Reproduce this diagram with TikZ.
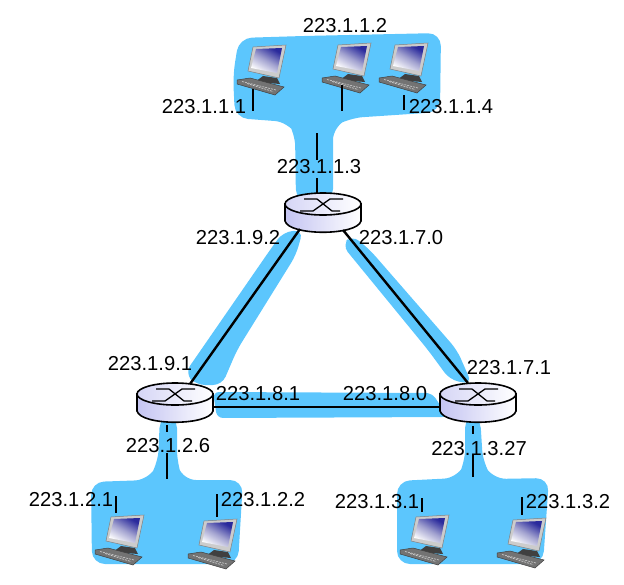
\documentclass[tikz,border=0pt]{standalone}
\usepackage{fontspec}
\setmainfont{Liberation Sans}
\usepackage{tikz}
\usetikzlibrary{calc}
\usetikzlibrary{positioning}
\definecolor{netblue}{HTML}{5CC6FD}
\definecolor{routerlav}{HTML}{C4C4F2}
\definecolor{screenblue}{HTML}{2A2A9C}
\tikzset{
  iplabel/.style={inner sep=0pt,anchor=center,font=\fontsize{20.2}{21}\selectfont},
  netband/.style={fill=netblue,rounded corners=13pt},
  link/.style={line width=2.4pt,black},
  stub/.style={line width=1.7pt,black},
  routerpic/.pic={
    \draw[line width=1.6pt,left color=routerlav,right color=white]
      (-38,0) -- (-38,17) .. controls (-34,32) and (34,32) .. (38,17) -- (38,0) -- cycle;
    \draw[line width=1.6pt,left color=routerlav!70,right color=white] (0,0) ellipse [x radius=38pt,y radius=11pt];
    \draw[line width=1.3pt] (-23,7) -- (-10,7) -- (7,-5) -- (20,-5);
    \draw[line width=1.3pt] (-19,-5) -- (-6,-5) -- (9,7) -- (17,7);
    \coordinate (-e) at (38,13);
    \coordinate (-w) at (-38,13);
    \coordinate (-sw) at (-23,25);
    \coordinate (-se) at (20,26);
    \coordinate (-ne) at (15,-10);
    \coordinate (-nw) at (-10,-11);
  },
  hostpic/.pic={
    \fill[black!75] (-2,16) -- (12,18) -- (15,24) -- (-10,22) -- cycle;
    \fill[black!20,draw=black!50,line width=0.5pt] (-12,-13) -- (21,-15) -- (14,18) -- (-17,11) -- cycle;
    \shade[top color=screenblue,bottom color=white,middle color=black!5!white!60!screenblue,shading angle=-30]
      (-9,-11) -- (17,-12) -- (12,13) -- (-14,8) -- cycle;
    \fill[black!55,draw=black!75,line width=0.5pt] (-28,20) -- (-15,18) -- (19,27) -- (10,35) -- (-28,24) -- cycle;
    \draw[white!80!black,line width=0.7pt,dash pattern=on 2pt off 1pt] (-23,21.5) -- (11,30);
    \draw[white!80!black,line width=0.7pt,dash pattern=on 2pt off 1pt] (-18,23.5) -- (8,31.5);
  },
}
\begin{document}
\begin{tikzpicture}[x=1pt,y=-1pt]
  \useasboundingbox (0,0) rectangle (624,584);
  % blue networks
  \fill[netband] (239,38) -- (303,36) -- (441,33) -- (440,112) -- (350,118) -- (333,127) -- (333,202) -- (296,202) -- (295,133) -- (288,122) -- (235,118) -- (233,75) -- cycle;
  \fill[netband] (160,415) -- (177,415) -- (177,463) -- (183,480) -- (243,480) -- (238,564) -- (92,564) -- (91,482) -- (148,480) -- (158,463) -- cycle;
  \fill[netband] (465,415) -- (480,415) -- (483,463) -- (493,479) -- (549,478) -- (543,564) -- (397,564) -- (397,481) -- (457,478) -- (465,463) -- cycle;
  \fill[netband,rounded corners=9pt] (283,232) -- (303,230) -- (296,255) -- (237,350) -- (222,385) -- (196,385) -- (185,373) -- (270,250) -- cycle;
  \fill[netband,rounded corners=9pt] (342,245) -- (352,235) -- (370,250) -- (457,350) -- (472,384) -- (450,380) -- (428,350) -- cycle;
  \fill[netband,rounded corners=6pt] (213,392) -- (432,393) -- (448,417) -- (217,418) -- cycle;
  % routers and hosts
  \pic (rtop) at (323,204) {routerpic};
  \pic (rleft) at (175,394) {routerpic};
  \pic (rright) at (478,394) {routerpic};
  \pic (ha) at (265,60) {hostpic};
  \pic (hb) at (350,58) {hostpic};
  \pic (hc) at (407,58) {hostpic};
  \pic (hd) at (123,530) {hostpic};
  \pic (he) at (216,534) {hostpic};
  \pic (hf) at (428,530) {hostpic};
  \pic (hg) at (525,533) {hostpic};
  % links
  \draw[link] (rtop-sw) -- (rleft-ne);
  \draw[link] (rtop-se) -- (rright-nw);
  \draw[link] (rleft-e) -- (rright-w);
  % stubs
  \coordinate (sa1) at (253,89); \coordinate (sa2) at (253,111);
  \coordinate (sb1) at (342,85); \coordinate (sb2) at (342,111);
  \coordinate (sc1) at (404,95); \coordinate (sc2) at (404,110);
  \coordinate (st1) at (317,133); \coordinate (st2) at (317,160);
  \coordinate (st3) at (317,178); \coordinate (st4) at (317,193);
  \coordinate (sl1) at (167,425); \coordinate (sl2) at (167,432);
  \coordinate (sl3) at (167,453); \coordinate (sl4) at (167,479);
  \coordinate (sd1) at (116,496); \coordinate (sd2) at (116,513);
  \coordinate (se1) at (217,494); \coordinate (se2) at (217,517);
  \coordinate (sr1) at (473,426); \coordinate (sr2) at (473,434);
  \coordinate (sr3) at (473,455); \coordinate (sr4) at (473,477);
  \coordinate (sf1) at (422,498); \coordinate (sf2) at (422,512);
  \coordinate (sg1) at (522,497); \coordinate (sg2) at (522,515);
  \draw[stub] (sa1) -- (sa2);
  \draw[stub] (sb1) -- (sb2);
  \draw[stub] (sc1) -- (sc2);
  \draw[stub] (st1) -- (st2);
  \draw[stub] (st3) -- (st4);
  \draw[stub] (sl1) -- (sl2);
  \draw[stub] (sl3) -- (sl4);
  \draw[stub] (sd1) -- (sd2);
  \draw[stub] (se1) -- (se2);
  \draw[link] (sr1) -- (sr2);
  \draw[link] (sr3) -- (sr4);
  \draw[stub] (sf1) -- (sf2);
  \draw[stub] (sg1) -- (sg2);
  % addresses
  \node[iplabel] (ipa) at (345,26) {223.1.1.2};
  \node[iplabel] (ipb) at (204,107) {223.1.1.1};
  \node[iplabel] (ipc) at (451,107) {223.1.1.4};
  \node[iplabel] (ipd) at (319,167) {223.1.1.3};
  \node[iplabel] (ipe) at (238,238) {223.1.9.2};
  \node[iplabel] (ipf) at (401,238) {223.1.7.0};
  \node[iplabel] (ipg) at (150,364) {223.1.9.1};
  \node[iplabel] (iph) at (258,394) {223.1.8.1};
  \node[iplabel] (ipi) at (385,394) {223.1.8.0};
  \node[iplabel] (ipj) at (509,368) {223.1.7.1};
  \node[iplabel] (ipk) at (168,446) {223.1.2.6};
  \node[iplabel] (ipl) at (479,449) {223.1.3.27};
  \node[iplabel] (ipm) at (71,500) {223.1.2.1};
  \node[iplabel] (ipn) at (263,500) {223.1.2.2};
  \node[iplabel] (ipo) at (377,502) {223.1.3.1};
  \node[iplabel] (ipp) at (568,502) {223.1.3.2};
\end{tikzpicture}
\end{document}
